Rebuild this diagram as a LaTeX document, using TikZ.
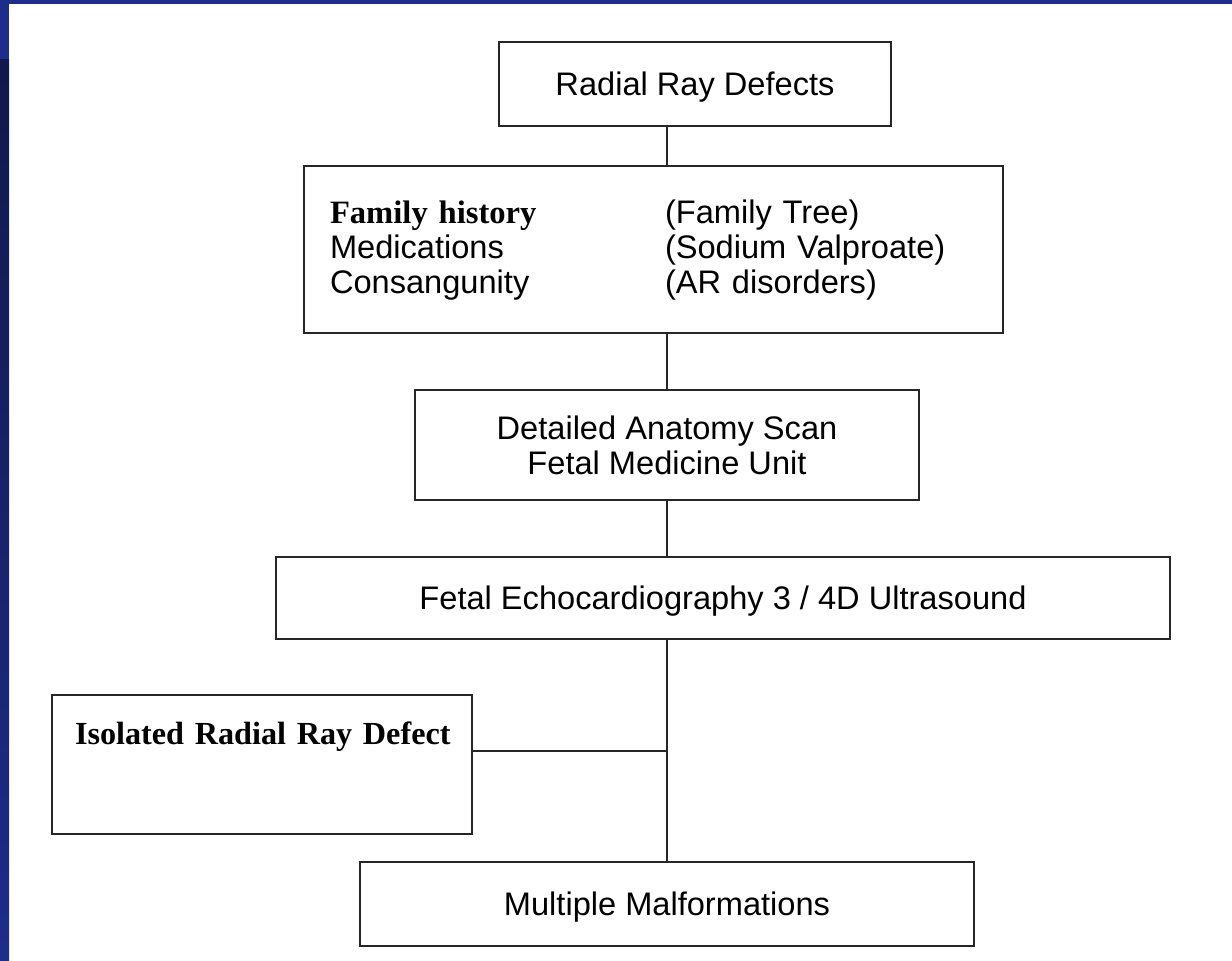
\documentclass[tikz,border=0pt]{standalone}
\usepackage{fontspec}
\setmainfont{Liberation Serif}
\setsansfont{Liberation Sans}
\usetikzlibrary{positioning}
\definecolor{slideblue}{HTML}{1E2C8C}
\definecolor{slidenavy}{HTML}{10194A}
\tikzset{
  > = stealth,
  box/.style = {rectangle,
                draw = black!85,
                line width = 1pt,
                align = center,
                font = \fontsize{16.3}{17.5}\selectfont\sffamily,
                inner sep = 0pt},
  single/.style = {text depth = 0pt},
  heading/.style = {font = \fontsize{16.1}{17.5}\selectfont\rmfamily\bfseries},
  link/.style = {draw = black!85,
                 line width = 1pt}
}

\begin{document}
\begin{tikzpicture}[x = 0.5pt, y = -0.5pt]

\useasboundingbox (0,0) rectangle (1232,961);
\fill[white] (0,0) rectangle (1232,961);
\fill[slideblue] (0,0) rectangle (1232,4);
\fill[slideblue] (0,0) rectangle (9,961);
\shade[top color = slidenavy, bottom color = slideblue] (0,60) rectangle (9,961);

\node[box, single, minimum width = 196pt, minimum height = 42pt](radial) at (695,84) {Radial Ray Defects};

\node[box, minimum width = 349.5pt, minimum height = 83.5pt, text width = 323.5pt, align = left](history) at (653.5,249.5)
  {\raisebox{-1.25pt}[\height][\depth]{\begin{tabular}{@{}p{167.5pt}@{}l@{}}
   \rmfamily\bfseries Family history & (Family Tree)\\
   Medications & (Sodium Valproate)\\
   Consangunity & (AR disorders)
   \end{tabular}}};

\node[box, minimum width = 252pt, minimum height = 55pt](anatomy) at (667,445) {Detailed Anatomy Scan\\Fetal Medicine Unit};

\node[box, single, minimum width = 447pt, minimum height = 41pt](echo) at (723,598) {Fetal Echocardiography 3 / 4D Ultrasound};

\node[box, heading, align = left, text width = 187pt, inner xsep = 11.5pt, text height = 25pt, text depth = 44.5pt](isolated) at (262,764.5) {\mbox{Isolated Radial Ray Defect}};

\node[box, single, minimum width = 307pt, minimum height = 42pt](multiple) at (667,904) {Multiple Malformations};

% trunk
\draw[link] (radial.south -| anatomy) -- (history.north -| anatomy);
\draw[link] (history.south -| anatomy) -- (anatomy);
\draw[link] (anatomy) -- (echo.north -| anatomy);
\draw[link] (echo.south -| multiple) -- (multiple);
\draw[link] ([yshift = 6.75pt]isolated.east) -- ([yshift = 6.75pt]isolated.east -| multiple);

\end{tikzpicture}
\end{document}
